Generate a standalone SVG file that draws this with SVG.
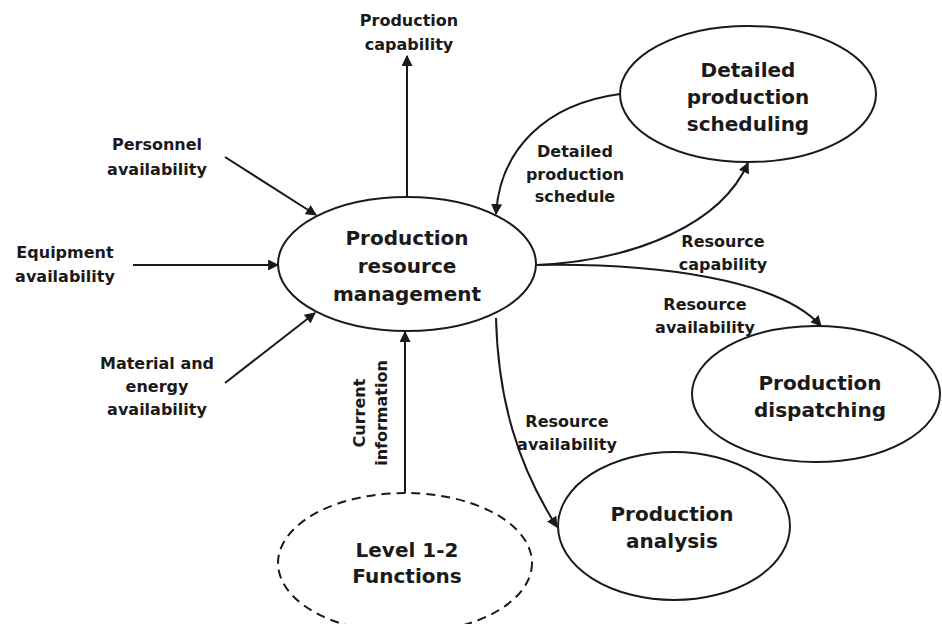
<svg xmlns="http://www.w3.org/2000/svg" width="942" height="624" viewBox="0 0 942 624">
  <defs>
    <marker id="arrow" viewBox="0 0 10 10" refX="9" refY="5" markerWidth="11" markerHeight="11" markerUnits="userSpaceOnUse" orient="auto">
      <path d="M0,0 L10,5 L0,10 z" fill="#1a1a1a"/>
    </marker>
  </defs>
  <style>
    .node { fill: #ffffff; stroke: #1a1a1a; stroke-width: 2; }
    .dashed { stroke-dasharray: 9 6; }
    .edge { fill: none; stroke: #1a1a1a; stroke-width: 2; marker-end: url(#arrow); }
    .title { font-family: "DejaVu Sans", Verdana, sans-serif; font-weight: bold; font-size: 20px; fill: #1a1a1a; text-anchor: middle; }
    .label { font-family: "DejaVu Sans", Verdana, sans-serif; font-weight: bold; font-size: 16px; fill: #1a1a1a; text-anchor: middle; }
  </style>
  <rect width="942" height="624" fill="#ffffff"/>

  <!-- connectors -->
  <g id="connectors">
    <path class="edge" d="M407,197 L407,56"/>
    <path class="edge" d="M225,157 L316,215"/>
    <path class="edge" d="M133,265 L278,265"/>
    <path class="edge" d="M225,383 L315,313"/>
    <path class="edge" d="M405,493 L405,332"/>
    <path class="edge" d="M620,94 C545,104 500,150 496,214"/>
    <path class="edge" d="M537,265 C640,260 722,222 748,163"/>
    <path class="edge" d="M537,265 C660,263 780,280 821,326"/>
    <path class="edge" d="M496,318 C498,400 518,466 557,527"/>

    <text class="label" x="409" y="26">Production</text>
    <text class="label" x="409" y="50">capability</text>
    <text class="label" x="157" y="150">Personnel</text>
    <text class="label" x="157" y="175">availability</text>
    <text class="label" x="65" y="258">Equipment</text>
    <text class="label" x="65" y="282">availability</text>
    <text class="label" x="157" y="369">Material and</text>
    <text class="label" x="157" y="392">energy</text>
    <text class="label" x="157" y="415">availability</text>
    <text class="label" x="575" y="157">Detailed</text>
    <text class="label" x="575" y="180">production</text>
    <text class="label" x="575" y="202">schedule</text>
    <text class="label" x="723" y="247">Resource</text>
    <text class="label" x="723" y="270">capability</text>
    <text class="label" x="705" y="310">Resource</text>
    <text class="label" x="705" y="333">availability</text>
    <text class="label" x="567" y="427">Resource</text>
    <text class="label" x="567" y="450">availability</text>
    <g transform="translate(365,413) rotate(-90)">
      <text class="label" x="0" y="0">Current</text>
      <text class="label" x="0" y="22">information</text>
    </g>
  </g>

  <g id="resource-management">
    <ellipse class="node" cx="407" cy="264" rx="129" ry="67"/>
    <text class="title" x="407" y="245">Production</text>
    <text class="title" x="407" y="273">resource</text>
    <text class="title" x="407" y="301">management</text>
  </g>

  <g id="detailed-scheduling">
    <ellipse class="node" cx="748" cy="94" rx="128" ry="68"/>
    <text class="title" x="748" y="77">Detailed</text>
    <text class="title" x="748" y="104">production</text>
    <text class="title" x="748" y="131">scheduling</text>
  </g>

  <g id="dispatching">
    <ellipse class="node" cx="816" cy="394" rx="124" ry="68"/>
    <text class="title" x="820" y="390">Production</text>
    <text class="title" x="820" y="417">dispatching</text>
  </g>

  <g id="analysis">
    <ellipse class="node" cx="674" cy="526" rx="116" ry="74"/>
    <text class="title" x="672" y="521">Production</text>
    <text class="title" x="672" y="548">analysis</text>
  </g>

  <g id="level-1-2">
    <ellipse class="node dashed" cx="405" cy="563" rx="127" ry="70"/>
    <text class="title" x="407" y="557">Level 1-2</text>
    <text class="title" x="407" y="583">Functions</text>
  </g>
</svg>
